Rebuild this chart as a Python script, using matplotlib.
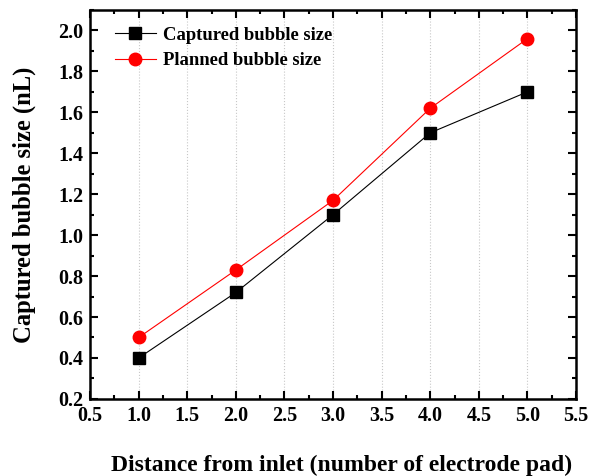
import matplotlib
matplotlib.use("Agg")
import matplotlib.pyplot as plt
from matplotlib.ticker import MultipleLocator

# bubble size vs. electrode pad position
pads = [1.0, 2.0, 3.0, 4.0, 5.0]
captured = [0.40, 0.72, 1.10, 1.50, 1.70]
planned = [0.50, 0.83, 1.17, 1.62, 1.96]

plt.rcParams['font.family'] = ['Liberation Serif', 'DejaVu Serif']
plt.rcParams['font.weight'] = 'bold'

fig = plt.figure(figsize=(5.89, 4.76), dpi=100)
ax = fig.add_axes([0.153, 0.162, 0.825, 0.817])

ax.plot(pads, captured, color='black', linewidth=0.8, marker='s', markersize=8,
        label='Captured bubble size')
ax.plot(pads, planned, color='red', linewidth=0.8, marker='o', markersize=9,
        label='Planned bubble size')

ax.xaxis.set_major_locator(MultipleLocator(0.5))
ax.xaxis.set_minor_locator(MultipleLocator(0.25))
ax.yaxis.set_major_locator(MultipleLocator(0.2))
ax.yaxis.set_minor_locator(MultipleLocator(0.1))
ax.xaxis.set_major_formatter('{x:.1f}')
ax.yaxis.set_major_formatter('{x:.1f}')
ax.set_xlim(0.5, 5.5)
ax.set_ylim(0.2, 2.1)
ax.tick_params(which='both', direction='in', top=True, right=True, width=1.5,
               labelsize=14.5)
ax.tick_params(which='major', length=6, pad=5)
ax.tick_params(which='minor', length=3)
for s in ax.spines.values():
    s.set_linewidth(1.8)

ax.grid(axis='x', which='major', color='#c8c8c8', linestyle=':', linewidth=0.8)

ax.set_xlabel('Distance from inlet (number of electrode pad)', fontsize=17,
              fontweight='bold')
ax.xaxis.set_label_coords(0.518, -0.145)
ax.set_ylabel('Captured bubble size (nL)', fontsize=17.7, fontweight='bold')
ax.yaxis.set_label_coords(-0.112, 0.5)

ax.legend(loc='upper left', frameon=False, fontsize=13.4, handlelength=2.2,
          handletextpad=0.4, borderaxespad=0.4, labelspacing=0.45,
          bbox_to_anchor=(0.02, 0.995))

fig.savefig('out.png', dpi=100)
